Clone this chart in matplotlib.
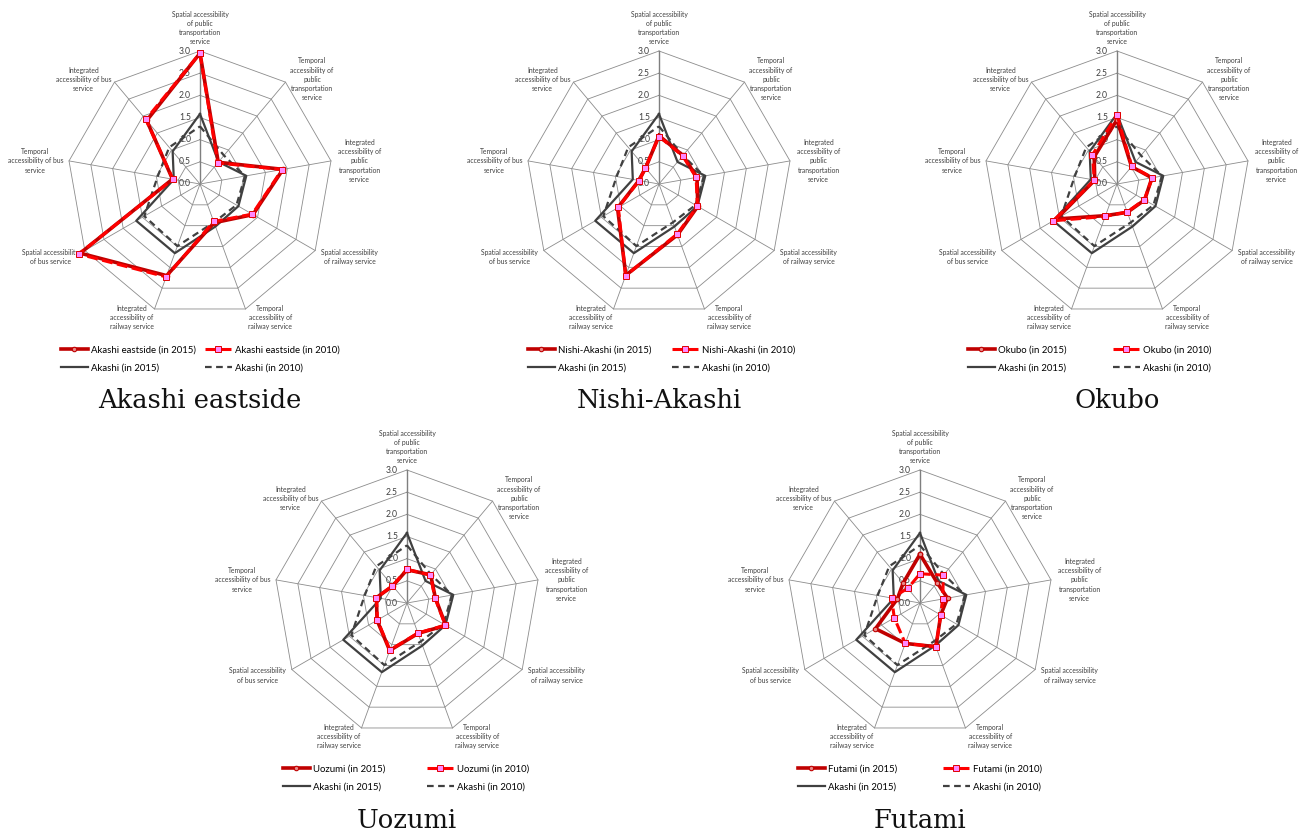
import numpy as np
import matplotlib.pyplot as plt
from matplotlib.lines import Line2D

categories = ["Spatial accessibility\nof public\ntransportation\nservice",
              "Temporal\naccessibility of\npublic\ntransportation\nservice",
              "Integrated\naccessibility of\npublic\ntransportation\nservice",
              "Spatial accessibility\nof railway service",
              "Temporal\naccessibility of\nrailway service",
              "Integrated\naccessibility of\nrailway service",
              "Spatial accessibility\nof bus service",
              "Temporal\naccessibility of bus\nservice",
              "Integrated\naccessibility of bus\nservice"]
ticks = [0.0, 0.5, 1.0, 1.5, 2.0, 2.5, 3.0]

akashi_2015 = [1.58, 0.65, 1.06, 1.0, 1.02, 1.66, 1.66, 0.6, 0.96]
akashi_2010 = [1.3, 0.84, 1.03, 0.95, 0.92, 1.49, 1.45, 0.97, 1.08]

districts = ["Akashi eastside", "Nishi-Akashi", "Okubo", "Uozumi", "Futami"]
eastside_2015 = [2.95, 0.64, 1.9, 1.38, 0.93, 2.2, 3.12, 0.63, 1.87]
eastside_2010 = [2.95, 0.62, 1.88, 1.36, 0.9, 2.23, 3.16, 0.62, 1.9]
nishi_2015 = [1.09, 0.84, 0.87, 1.01, 1.22, 2.19, 1.08, 0.46, 0.47]
nishi_2010 = [1.07, 0.83, 0.85, 1.0, 1.2, 2.2, 1.06, 0.45, 0.48]
okubo_2015 = [1.45, 0.51, 0.8, 0.72, 0.68, 0.76, 1.58, 0.51, 0.8]
okubo_2010 = [1.56, 0.52, 0.81, 0.71, 0.67, 0.78, 1.66, 0.52, 0.86]
uozumi_2015 = [0.75, 0.83, 0.65, 1.01, 0.73, 1.14, 0.78, 0.7, 0.5]
uozumi_2010 = [0.76, 0.82, 0.64, 1.0, 0.72, 1.13, 0.77, 0.7, 0.51]
futami_2015 = [1.1, 0.6, 0.63, 0.54, 1.05, 0.97, 1.16, 0.52, 0.59]
futami_2010 = [0.66, 0.82, 0.52, 0.54, 1.05, 0.97, 0.67, 0.65, 0.43]

series_2015 = [eastside_2015, nishi_2015, okubo_2015, uozumi_2015, futami_2015]
series_2010 = [eastside_2010, nishi_2010, okubo_2010, uozumi_2010, futami_2010]

W, H = 1305, 834
R = 133  # px of radius 3.0
centers = [(200, 184), (659, 184), (1117, 184), (407, 603), (920, 603)]
leg_x = [(-139, 5), (-131, 13), (-149, -4), (-124, 20), (-122, 23)]

# label placement: (ha, va, dx px, dy px up)
lab_pos = [("center", "bottom", 0, 6), ("left", "center", 5, 3), ("left", "center", 7, 0),
           ("left", "top", 6, 2), ("left", "top", 3, 4), ("right", "top", -1, 4),
           ("right", "top", -6, 2), ("right", "center", -6, 0), ("right", "center", -3, 3)]

SANS = "Lato"
RED15 = "#c00000"
RED10 = "#ff0000"
GREY = "#404040"

fig = plt.figure(figsize=(W / 100, H / 100), dpi=100)

theta = np.deg2rad(np.arange(len(categories)) * 40.0)
tc = np.append(theta, theta[0])


def close(v):
    return np.append(v, v[0])


for i, name in enumerate(districts):
    cx, cy = centers[i]
    ax = fig.add_axes([(cx - R) / W, (H - cy - R) / H, 2 * R / W, 2 * R / H], projection="polar")
    ax.set_theta_zero_location("N")
    ax.set_theta_direction(-1)
    ax.set_xticks([])
    ax.set_yticks([])
    ax.grid(False)
    ax.spines["polar"].set_visible(False)

    # polygon grid
    for r in ticks[1:]:
        ax.plot(tc, [r] * len(tc), color="#8c8c8c", lw=0.6, zorder=1, clip_on=False)
    for k, t in enumerate(theta):
        ax.plot([t, t], [0, 3.0], color="#7f7f7f" if k == 0 else "#8c8c8c",
                lw=1.0 if k == 0 else 0.6, zorder=1, clip_on=False)
    for r in ticks:
        ax.annotate("%.1f" % r, xy=(0, r), xytext=(-6.5, 0), textcoords="offset points",
                    ha="right", va="center", fontsize=6.2, family=SANS, color="#404040")
    for k, t in enumerate(theta):
        ha, va, dx, dy = lab_pos[k]
        ax.annotate(categories[k], xy=(t, 3.0), xytext=(dx * 0.72, dy * 0.72),
                    textcoords="offset points", ha=ha, va=va, multialignment="center",
                    fontsize=4.9, family=SANS, color="#404040", linespacing=1.35)

    ax.plot(tc, close(akashi_2015), color=GREY, lw=1.6, zorder=3, clip_on=False)
    ax.plot(tc, close(akashi_2010), color=GREY, lw=1.6, ls=(0, (3, 2)), zorder=3, clip_on=False)
    ax.plot(tc, close(series_2015[i]), color=RED15, lw=2.6, marker="o", ms=3.2,
            mfc="#e88a8a", mec=RED15, mew=0.8, zorder=4, clip_on=False)
    ax.plot(tc, close(series_2010[i]), color=RED10, lw=2.2, ls=(0, (3.5, 1.5)), marker="s", ms=4.2,
            mfc="#ff88ff", mec="#e00000", mew=0.7, zorder=5, clip_on=False)
    ax.set_ylim(0, 3.0)

    h15 = Line2D([], [], color=RED15, lw=2.6, marker="o", ms=3.2, mfc="#e88a8a", mec=RED15, mew=0.8)
    h10 = Line2D([], [], color=RED10, lw=2.2, ls=(0, (3.5, 1.5)), marker="s", ms=4.2,
                 mfc="#ff88ff", mec="#e00000", mew=0.7)
    hak15 = Line2D([], [], color=GREY, lw=1.6)
    hak10 = Line2D([], [], color=GREY, lw=1.6, ls=(0, (3, 2)))
    ymid = 1 - (cy + 175) / H
    kw = dict(loc="center left", frameon=False, borderpad=0, borderaxespad=0, handlelength=2.8,
              handletextpad=0.3, labelspacing=1.0, numpoints=1, prop={"family": SANS, "size": 6.9})
    fig.legend([h15, hak15], [name + " (in 2015)", "Akashi (in 2015)"],
               bbox_to_anchor=((cx + leg_x[i][0]) / W, ymid), **kw)
    fig.legend([h10, hak10], [name + " (in 2010)", "Akashi (in 2010)"],
               bbox_to_anchor=((cx + leg_x[i][1]) / W, ymid), **kw)

    fig.text(cx / W, 1 - (cy + 217) / H, name, ha="center", va="center",
             family="DejaVu Serif", fontsize=18.5, color="#111111")

fig.savefig("out.png", dpi=100, facecolor="white")
